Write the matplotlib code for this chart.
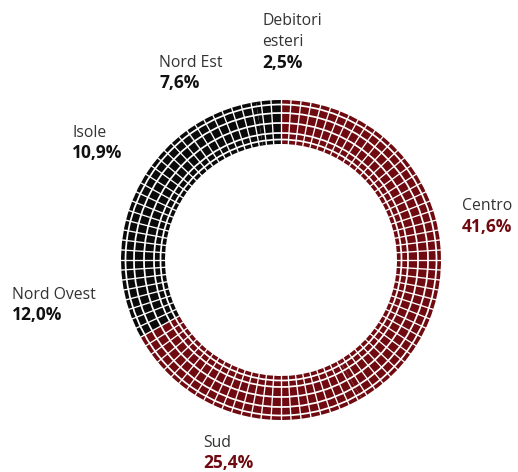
import numpy as np
import matplotlib
matplotlib.use("Agg")
import matplotlib.pyplot as plt
from matplotlib.patches import Circle

# ---- data ----
categories = ["Centro", "Sud", "Nord Ovest", "Isole", "Nord Est", "Debitori\nesteri"]
shares = [41.6, 25.4, 12.0, 10.9, 7.6, 2.5]
group = ["red", "red", "black", "black", "black", "black"]

# ---- style ----
RED = "#6e0a10"
BLACK = "#0a0a0a"
TEXT = "#333333"
W, H = 518, 472
CX, CY = 281, H - 260
R_OUT, R_IN = 160, 116
RING_SPLITS = [120.5, 127.0, 137.0, 147.0, 155.5]
N_CELLS = 100

# label anchor (left x, baseline y of first line) in pixel coords
label_pos = {
    "Centro": (462, 210),
    "Sud": (203, 447),
    "Nord Ovest": (12, 299),
    "Isole": (72, 137),
    "Nord Est": (159, 67),
    "Debitori\nesteri": (262, 25),
}
LINE = 21.5

fig = plt.figure(figsize=(W / 100, H / 100), dpi=100)
ax = fig.add_axes([0, 0, 1, 1])

colors = [RED if g == "red" else BLACK for g in group]
ax.pie(shares, colors=colors, startangle=90, counterclock=False,
       center=(CX, CY), radius=R_OUT,
       wedgeprops=dict(width=R_OUT - R_IN, edgecolor="none", linewidth=0))
ax.set_xlim(0, W)
ax.set_ylim(0, H)
ax.set_aspect("equal")
ax.axis("off")

# concentric white separators
for r in RING_SPLITS:
    ax.add_patch(Circle((CX, CY), r, fill=False, edgecolor="white", lw=1.25, zorder=3))

# radial white separators (one cell per percent)
for k in range(N_CELLS):
    a = np.deg2rad(90 - 360.0 * k / N_CELLS)
    ax.plot([CX + (R_IN - 1) * np.cos(a), CX + (R_OUT + 1) * np.cos(a)],
            [CY + (R_IN - 1) * np.sin(a), CY + (R_OUT + 1) * np.sin(a)],
            color="white", lw=0.95, zorder=3, solid_capstyle="butt")

# labels
for cat, val, g in zip(categories, shares, group):
    x, y = label_pos[cat]
    lines = cat.split("\n")
    for i, ln in enumerate(lines):
        ax.text(x, H - (y + i * LINE), ln, fontsize=11.3, family="Open Sans",
                color=TEXT, ha="left", va="baseline")
    pct = f"{val:.1f}%".replace(".", ",")
    ax.text(x, H - (y + len(lines) * LINE), pct, fontsize=12.5, family="Open Sans",
            fontweight="bold", color=RED if g == "red" else "#111111",
            ha="left", va="baseline")

fig.savefig("out.png", dpi=100, facecolor="white")
